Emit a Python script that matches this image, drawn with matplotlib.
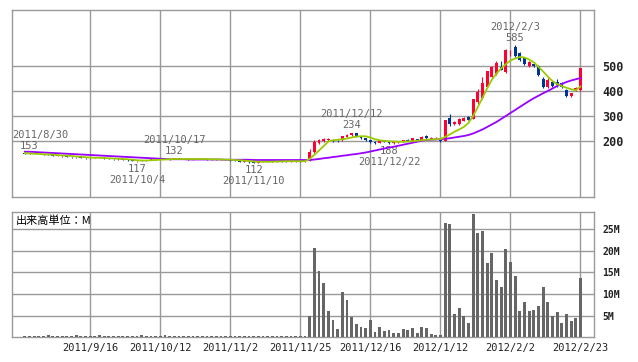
import numpy as np
import matplotlib
matplotlib.use("Agg")
import matplotlib.pyplot as plt

matplotlib.rcParams['font.family'] = ['DejaVu Sans Mono', 'Noto Sans CJK JP']

# daily bars, index 0 = 2011/8/29 ... index 119 = 2012/2/23
opens = [151, 150, 149, 148, 149, 147, 145, 141, 142, 139, 137, 135, 136, 133, 131, 132, 135, 134, 131, 129,
         127, 130, 126, 123, 120, 121, 123, 125, 127, 128, 130, 128, 129, 131, 129, 128, 127, 128, 129, 128,
         127, 126, 125, 126, 124, 122, 120, 118, 119, 115, 114, 117, 118, 119, 117, 118, 119, 118, 119, 120,
         119, 125, 155, 193, 200, 205, 205, 202, 204, 218, 224, 231, 218, 211, 204, 197, 194, 203, 196, 193,
         195, 197, 204, 201, 208, 204, 220, 210, 212, 212, 202, 293, 268, 268, 282, 297, 290, 358, 372, 417,
         458, 470, 498, 478, 560, 575, 552, 531, 501, 510, 502, 447, 418, 436, 435, 432, 404, 381, 404, 405]
highs = [152, 153, 150, 150, 149, 148, 146, 143, 142, 140, 138, 137, 136, 134, 133, 136, 137, 135, 132, 130,
         131, 130, 127, 124, 122, 124, 126, 128, 129, 131, 131, 130, 132, 131, 130, 129, 129, 130, 130, 129,
         128, 127, 127, 126, 125, 123, 121, 120, 119, 116, 118, 119, 120, 119, 119, 120, 120, 120, 121, 121,
         122, 170, 203, 210, 212, 213, 207, 204, 222, 230, 234, 232, 219, 213, 205, 199, 206, 205, 197, 196,
         200, 206, 207, 214, 209, 219, 223, 216, 215, 214, 286, 308, 280, 292, 295, 299, 370, 408, 456, 482,
         500, 522, 520, 567, 566, 585, 556, 536, 520, 514, 505, 458, 452, 440, 447, 436, 408, 392, 418, 493]
lows = [149, 148, 147, 147, 146, 144, 140, 139, 138, 136, 134, 133, 132, 130, 130, 131, 133, 130, 128, 126,
        126, 125, 122, 119, 117, 120, 122, 124, 126, 127, 127, 126, 128, 128, 127, 126, 126, 127, 127, 126,
        125, 124, 124, 123, 121, 119, 117, 116, 114, 112, 113, 116, 117, 116, 116, 117, 117, 117, 118, 118,
        118, 122, 152, 188, 196, 201, 198, 196, 202, 215, 221, 217, 209, 202, 193, 190, 192, 196, 188, 190,
        193, 195, 200, 199, 200, 203, 208, 208, 209, 198, 200, 262, 265, 265, 279, 283, 288, 350, 368, 415,
        455, 466, 483, 472, 540, 538, 522, 505, 498, 495, 460, 413, 412, 415, 418, 412, 378, 378, 400, 400]
closes = [150, 149, 148, 149, 147, 145, 141, 142, 139, 137, 135, 136, 133, 131, 132, 135, 134, 131, 129, 127,
          130, 126, 123, 120, 121, 123, 125, 127, 128, 130, 128, 129, 131, 129, 128, 127, 128, 129, 128, 127,
          126, 125, 126, 124, 122, 120, 118, 119, 115, 114, 117, 118, 119, 117, 118, 119, 118, 119, 120, 119,
          121, 157, 198, 205, 208, 208, 200, 199, 219, 226, 232, 220, 211, 204, 196, 193, 203, 198, 192, 194,
          199, 204, 202, 212, 203, 217, 211, 214, 213, 201, 284, 268, 276, 290, 291, 285, 368, 397, 432, 480,
          497, 512, 485, 563, 562, 540, 526, 508, 515, 500, 463, 416, 443, 420, 424, 416, 381, 391, 414, 492]
ma_short = [151, 150, 149, 148, 147, 146, 145, 144, 142, 141, 140, 138, 137, 135, 134, 133, 133, 132, 131, 130,
            129, 128, 127, 125, 123, 122, 122, 123, 124, 125, 126, 127, 128, 128, 128, 128, 128, 128, 128, 128,
            127, 127, 126, 126, 125, 124, 123, 121, 120, 118, 117, 117, 117, 117, 118, 118, 119, 119, 119, 119,
            119, 128, 145, 162, 180, 198, 203, 205, 207, 210, 214, 218, 219, 219, 214, 207, 203, 200, 199, 198,
            197, 197, 198, 199, 201, 203, 205, 206, 207, 208, 216, 226, 237, 246, 256, 272, 300, 335, 372, 410,
            444, 470, 490, 507, 522, 530, 536, 534, 526, 515, 497, 478, 458, 440, 428, 420, 413, 407, 403, 418]
ma_long = [157, 157, 156, 155, 154, 153, 152, 151, 150, 149, 148, 147, 146, 145, 144, 143, 142, 141, 140, 139,
           138, 137, 136, 135, 134, 133, 132, 131, 130, 129, 128, 127, 127, 127, 127, 126, 126, 126, 126, 126,
           126, 126, 126, 125, 125, 125, 125, 125, 125, 124, 124, 124, 124, 124, 124, 124, 124, 124, 124, 124,
           124, 124, 126, 128, 131, 133, 136, 138, 141, 143, 146, 148, 151, 154, 158, 162, 166, 170, 174, 177,
           181, 185, 189, 193, 197, 201, 204, 205, 206, 207, 209, 211, 214, 217, 220, 224, 230, 238, 246, 256,
           266, 276, 288, 300, 312, 324, 336, 348, 360, 371, 381, 391, 400, 410, 420, 428, 436, 442, 447, 452]
volume_m = [0.3, 0.3, 0.3, 0.3, 0.3, 0.6, 0.3, 0.3, 0.3, 0.3, 0.3, 0.6, 0.3, 0.3, 0.3, 0.3, 0.6, 0.3, 0.3, 0.3,
            0.3, 0.3, 0.3, 0.3, 0.3, 0.6, 0.3, 0.3, 0.3, 0.3, 0.6, 0.3, 0.3, 0.3, 0.3, 0.3, 0.3, 0.3, 0.3, 0.3,
            0.3, 0.3, 0.3, 0.3, 0.3, 0.3, 0.3, 0.3, 0.3, 0.3, 0.3, 0.3, 0.3, 0.3, 0.3, 0.3, 0.3, 0.3, 0.3, 0.3,
            0.3, 5.0, 20.7, 15.3, 12.5, 6.1, 4.0, 1.9, 10.5, 8.6, 4.7, 3.1, 2.4, 2.2, 4.0, 1.2, 2.4, 1.5, 1.7, 1.0,
            1.0, 1.9, 1.7, 2.2, 1.0, 2.4, 2.2, 0.8, 0.5, 0.5, 26.4, 26.2, 5.4, 6.7, 5.0, 3.3, 28.5, 24.1, 24.5, 17.2,
            19.5, 13.2, 11.6, 20.4, 17.3, 14.1, 6.1, 8.2, 6.1, 6.3, 7.2, 11.6, 8.2, 5.0, 5.8, 3.3, 5.4, 3.8, 4.5, 13.7]

# grid columns every 15 trading days
date_ticks = [14, 29, 44, 59, 74, 89, 104, 119]
date_labels = ['2011/9/16', '2011/10/12', '2011/11/2', '2011/11/25',
               '2011/12/16', '2012/1/12', '2012/2/2', '2012/2/23']
price_ticks = [200, 300, 400, 500]
vol_ticks = [5, 10, 15, 20, 25]
vol_labels = ['5M', '10M', '15M', '20M', '25M']

# high / low marks: (index, value, date, is_high)
marks = [(1, 153, '2011/8/30', True), (24, 117, '2011/10/4', False),
         (32, 132, '2011/10/17', True), (49, 112, '2011/11/10', False),
         (70, 234, '2011/12/12', True), (78, 188, '2011/12/22', False),
         (105, 585, '2012/2/3', True)]

UP, DOWN = '#ff0033', '#003399'
GRID = '#999999'
XMIN, XMAX = -2.7, 121.9
x = np.arange(len(closes))
o, h, l, c = map(np.asarray, (opens, highs, lows, closes))

fig = plt.figure(figsize=(6.38, 3.62), dpi=100)
ax = fig.add_axes([12.3/638, 165/362, 581.7/638, 187/362])
axv = fig.add_axes([12.3/638, 24.7/362, 581.7/638, 125/362])

for a in (ax, axv):
    a.set_xlim(XMIN, XMAX)
    a.set_xticks(date_ticks)
    a.grid(True, color=GRID, linewidth=1.0)
    a.set_axisbelow(True)
    for s in a.spines.values():
        s.set_color(GRID)
        s.set_linewidth(1.0)
    a.yaxis.tick_right()
    a.tick_params(length=0, colors='black')

# price panel
ax.set_ylim(-24, 724)
ax.set_yticks(price_ticks)
ax.set_yticklabels([str(v) for v in price_ticks], fontsize=8.5, fontweight='bold', color='#222222')
ax.tick_params(axis='y', pad=6)
ax.set_xticklabels([])

up = c >= o
colors = np.where(up, UP, DOWN)
ax.vlines(x, l, h, colors=colors, linewidth=0.8, zorder=3)
body = np.maximum(np.abs(c - o), 2)
ax.bar(x, body, bottom=np.minimum(o, c), width=0.62, color=colors, linewidth=0, zorder=3)
ax.plot(x, ma_long, color='#9900ff', linewidth=1.3, zorder=4)
ax.plot(x, ma_short, color='#99cc00', linewidth=1.3, zorder=5)

for i, v, d, is_high in marks:
    sign = 1 if is_high else -1
    va = 'bottom' if is_high else 'top'
    ax.annotate(str(v), (i, v), xytext=(0, 1.5 * sign), textcoords='offset points',
                ha='center', va=va, fontsize=7.5, color='#666666')
    # keep the date inside the panel near the left edge
    if i < 5:
        ax.annotate(d, (XMIN, v), xytext=(0, 9.5 * sign), textcoords='offset points',
                    ha='left', va=va, fontsize=7.5, color='#666666')
    else:
        ax.annotate(d, (i, v), xytext=(0, 9.5 * sign), textcoords='offset points',
                    ha='center', va=va, fontsize=7.5, color='#666666')

# volume panel
axv.set_ylim(0, 28.9)
axv.set_yticks(vol_ticks)
axv.set_yticklabels(vol_labels, fontsize=7, fontweight='bold', color='#222222')
axv.tick_params(axis='y', pad=6)
axv.bar(x, volume_m, width=0.62, color='#666666', linewidth=0, zorder=3)
axv.set_xticklabels(date_labels, fontsize=7.5, color='#222222')
axv.tick_params(axis='x', pad=4)
axv.text(0.006, 0.93, '出来高単位：M', transform=axv.transAxes, ha='left', va='center',
         fontsize=8, family=['Noto Sans CJK JP', 'DejaVu Sans'], color='black')

plt.savefig('out.png', dpi=100)
